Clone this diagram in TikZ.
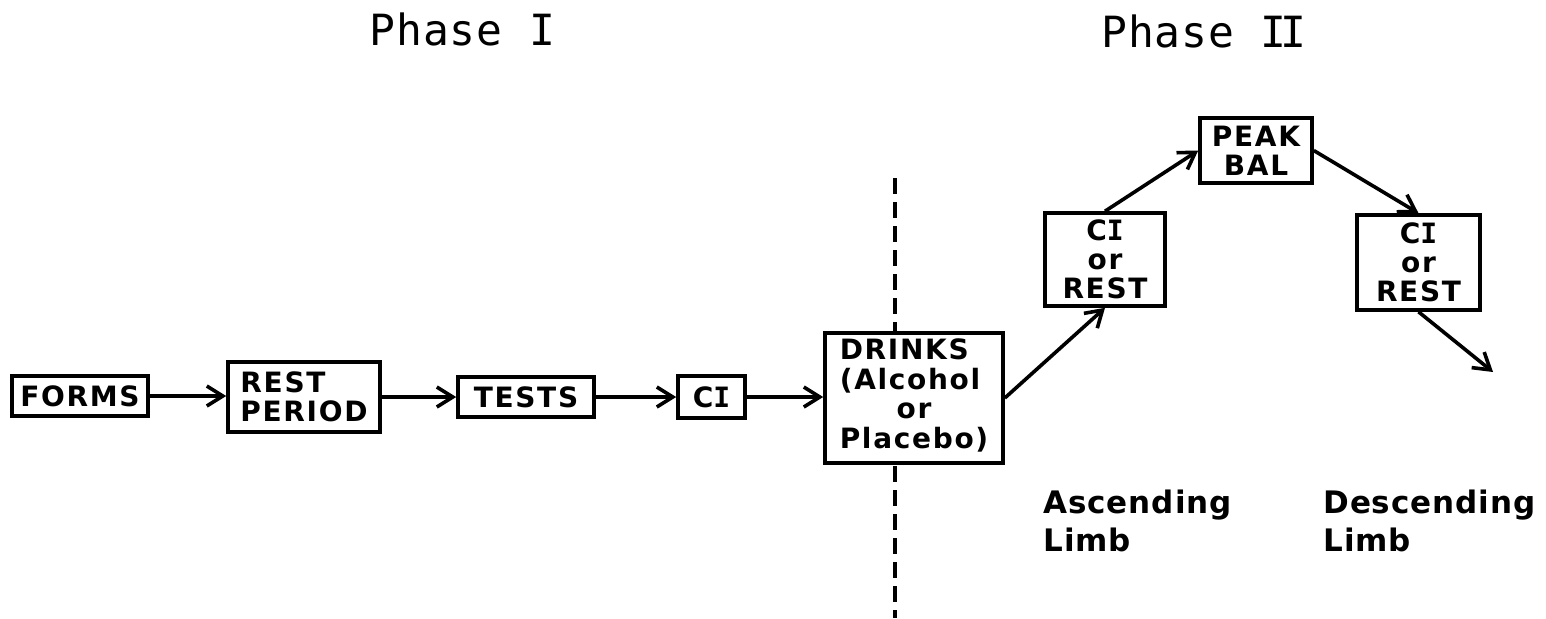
\documentclass[tikz,border=0pt]{standalone}
\usepackage{fontspec}
\usetikzlibrary{arrows.meta}
\newfontfamily\boxfont{DejaVu Sans}[LetterSpace=6]
\newfontfamily\labfont{DejaVu Sans}[LetterSpace=3]
\newfontfamily\headfont{DejaVu Sans Mono}[LetterSpace=2]
\newfontfamily\romfont{DejaVu Sans Mono}
\begin{document}
\begin{tikzpicture}[x=0.5pt,y=-0.5pt,
  box/.style={draw, line width=1.8pt, fill=white, inner sep=0pt,
    font=\boxfont\bfseries\fontsize{14}{14.5}\selectfont, align=center},
  conn/.style={line width=1.8pt, -{Straight Barb[length=8pt,width=10pt]}},
  divider/.style={line width=1.7pt, dash pattern=on 8pt off 4pt},
  lab/.style={inner sep=0pt, anchor=base west, font=\labfont\bfseries\fontsize{15.5}{18}\selectfont},
  head/.style={inner sep=0pt, anchor=base, font=\headfont\fontsize{21.5}{24}\selectfont}]
\useasboundingbox (0,0) rectangle (1546,618);

% divider
\coordinate (dtop) at (895,178);
\coordinate (dbot) at (895,618);
\draw[divider] (dtop) -- (dbot);

% headers
\node[head] (ph1) at (462.5,45) {Phase I};
\node[head] (ph2) at (1204,47) {Phase I\kern-3pt I};

% boxes
\node[box, minimum width=68pt, minimum height=20pt] (forms) at (80,396) {FORMS};
\node[box, minimum width=76pt, minimum height=35pt, align=left] (rest) at (304,397) {REST\\PERIOD};
\node[box, minimum width=68pt, minimum height=20pt] (tests) at (526,397) {TESTS};
\node[box, minimum width=33.5pt, minimum height=21pt] (ci) at (711.5,397) {C{\romfont\bfseries I}};
\node[box, minimum width=89pt, minimum height=65pt] (drinks) at (914,398)
  {\begin{tabular}{@{}l@{}}DRINKS\\(Alcohol\\\multicolumn{1}{@{}c@{}}{or}\\Placebo)\end{tabular}};
\node[box, minimum width=60pt, minimum height=46.5pt] (cir1) at (1105,259.5) {C{\romfont\bfseries I}\\or\\REST};
\node[box, minimum width=56pt, minimum height=32.5pt] (peak) at (1256,150.5) {PEAK\\BAL};
\node[box, minimum width=61.5pt, minimum height=47.5pt] (cir2) at (1418.5,262.5) {C{\romfont\bfseries I}\\or\\REST};

% labels
\node[lab] (asc1) at (1043,513) {Ascending};
\node[lab] (asc2) at (1043,551) {Limb};
\node[lab] (desc1) at (1323,513) {Descending};
\node[lab] (desc2) at (1323,551) {Limb};

% connectors
\coordinate (dend) at (1493,372);
\draw[conn] (forms.east) -- (rest.west |- forms.east);
\draw[conn] (rest.east |- tests.west) -- (tests.west);
\draw[conn] (tests.east) -- (ci.west);
\draw[conn] (ci.east) -- (drinks.west |- ci.east);
\draw[conn] (drinks.east) -- (cir1.south);
\draw[conn] (cir1.north) -- (peak.west);
\draw[conn] (peak.east) -- (cir2.north);
\draw[conn] (cir2.south) -- (dend);
\end{tikzpicture}
\end{document}
